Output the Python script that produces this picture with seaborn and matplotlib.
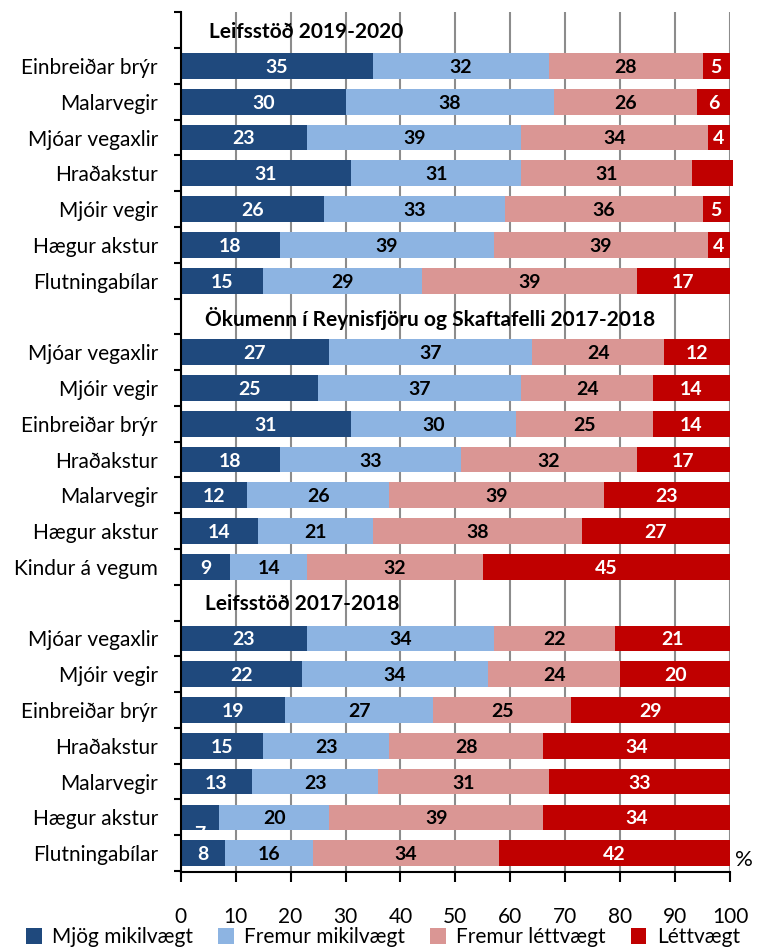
import pandas as pd
import matplotlib.pyplot as plt
import numpy as np
import seaborn as sns
from matplotlib.patches import Patch

# data (percent)
groups = ["Leifsstöð 2019-2020",
          "Ökumenn í Reynisfjöru og Skaftafelli 2017-2018",
          "Leifsstöð 2017-2018"]

items_g1 = ["Einbreiðar brýr", "Malarvegir", "Mjóar vegaxlir", "Hraðakstur",
            "Mjóir vegir", "Hægur akstur", "Flutningabílar"]
items_g2 = ["Mjóar vegaxlir", "Mjóir vegir", "Einbreiðar brýr", "Hraðakstur",
            "Malarvegir", "Hægur akstur", "Kindur á vegum"]
items_g3 = ["Mjóar vegaxlir", "Mjóir vegir", "Einbreiðar brýr", "Hraðakstur",
            "Malarvegir", "Hægur akstur", "Flutningabílar"]

cats = ["Mjög mikilvægt", "Fremur mikilvægt", "Fremur léttvægt", "Léttvægt"]
colors = ["#1F497D", "#8DB4E2", "#DA9694", "#C00000"]

g1_mjog = [35, 30, 23, 31, 26, 18, 15]
g1_fremur_mik = [32, 38, 39, 31, 33, 39, 29]
g1_fremur_lett = [28, 26, 34, 31, 36, 39, 39]
g1_lett = [5, 6, 4, 7.6, 5, 4, 17]   # 7.6 has no label in the original

g2_mjog = [27, 25, 31, 18, 12, 14, 9]
g2_fremur_mik = [37, 37, 30, 33, 26, 21, 14]
g2_fremur_lett = [24, 24, 25, 32, 39, 38, 32]
g2_lett = [12, 14, 14, 17, 23, 27, 45]

g3_mjog = [23, 22, 19, 15, 13, 7, 8]
g3_fremur_mik = [34, 34, 27, 23, 23, 20, 16]
g3_fremur_lett = [22, 24, 25, 28, 31, 39, 34]
g3_lett = [21, 20, 29, 34, 33, 34, 42]

xticks = list(range(0, 101, 10))

# build one row per bar, with empty header rows between groups
group_data = [
    (items_g1, [g1_mjog, g1_fremur_mik, g1_fremur_lett, g1_lett]),
    (items_g2, [g2_mjog, g2_fremur_mik, g2_fremur_lett, g2_lett]),
    (items_g3, [g3_mjog, g3_fremur_mik, g3_fremur_lett, g3_lett]),
]
recs = []
order = []
ylabels = []
header_pos = []
n = 0
for gname, (items, series) in zip(groups, group_data):
    order.append(f"r{n:02d}")
    ylabels.append("")
    header_pos.append((n, gname))
    n += 1
    for i, item in enumerate(items):
        rid = f"r{n:02d}"
        order.append(rid)
        ylabels.append(item)
        rec = {"row": rid}
        for c, s in zip(cats, series):
            rec[c] = s[i]
        recs.append(rec)
        n += 1

df = pd.DataFrame(recs)
cum = df.copy()
cum[cats] = df[cats].cumsum(axis=1)

plt.rcParams["font.family"] = ["Lato", "DejaVu Sans"]
fig = plt.figure(figsize=(7.66, 9.49), dpi=100)
ax = fig.add_axes([0.236, 0.081, 0.717, 0.906])

# stacked bars: draw cumulative totals from the widest to the narrowest
for c, col in reversed(list(zip(cats, colors))):
    sns.barplot(data=cum, x=c, y="row", order=order, color=col, width=0.72,
                saturation=1, orient="h", ax=ax, zorder=2)
for p in ax.patches:
    p.set_clip_on(False)   # one bar runs a little past 100

# value labels
for _, r in df.iterrows():
    y = order.index(r["row"])
    left = 0
    for c in cats:
        v = r[c]
        if v % 1 == 0:
            dy = 0.0
            # the "7" label is shifted down in the original
            if v == 7 and c == cats[0]:
                dy = 0.45
            ax.text(left + v / 2, y + dy + 0.04, str(int(v)), ha="center",
                    va="center", fontsize=14, fontweight="bold",
                    color="white" if c in (cats[0], cats[3]) else "black",
                    zorder=3)
        left += v

# group headers
for pos, name in header_pos:
    ax.text(5.2 if pos == 0 else 4.4, pos + 0.05, name, ha="left", va="center",
            fontsize=15, fontweight="bold", zorder=3)

ax.set_xlim(0, 100)
ax.set_ylim(len(order) - 0.47, -0.5)
ax.set_xticks(xticks)
ax.set_xticklabels([str(t) for t in xticks], fontsize=15)
ax.set_yticks(range(len(order)))
ax.set_yticklabels(ylabels, fontsize=15)
ax.tick_params(axis="y", length=0, pad=16.5)
ax.set_yticks(np.arange(-0.5, len(order), 1), minor=True)
ax.tick_params(axis="y", which="minor", length=5, width=1.5, color="black")
ax.tick_params(axis="x", length=7, width=1.5, pad=18)
ax.set_xlabel("")
ax.set_ylabel("")

ax.grid(axis="x", color="#8c8c8c", linewidth=1.5, zorder=0)
ax.set_axisbelow(True)
for s in ["top", "right"]:
    ax.spines[s].set_visible(False)
for s in ["left", "bottom"]:
    ax.spines[s].set_linewidth(1.5)
    ax.spines[s].set_color("black")

ax.text(1.01, 0.003, "%", transform=ax.transAxes, fontsize=16,
        ha="left", va="bottom")

handles = [Patch(facecolor=col, label=c) for c, col in zip(cats, colors)]
fig.legend(handles=handles, loc="lower center", bbox_to_anchor=(0.5, -0.018),
           ncol=4, frameon=False, fontsize=15, handlelength=0.75,
           handleheight=0.75, handletextpad=0.5, columnspacing=1.2)

fig.savefig("out.png", dpi=100)
